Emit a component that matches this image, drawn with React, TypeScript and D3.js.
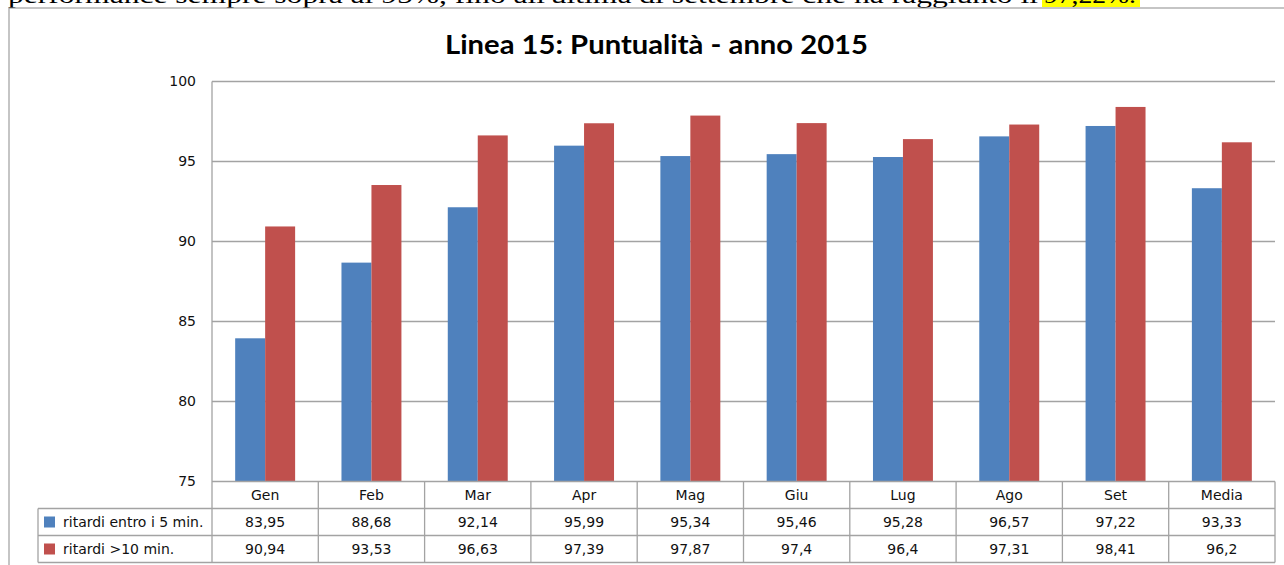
import * as d3 from 'd3';

const categories = ['Gen', 'Feb', 'Mar', 'Apr', 'Mag', 'Giu', 'Lug', 'Ago', 'Set', 'Media'];
const seriesNames = ['ritardi entro i 5 min.', 'ritardi >10 min.'];
const entro5 = [83.95, 88.68, 92.14, 95.99, 95.34, 95.46, 95.28, 96.57, 97.22, 93.33];
const oltre10 = [90.94, 93.53, 96.63, 97.39, 97.87, 97.4, 96.4, 97.31, 98.41, 96.2];
const tableLabels = [
  ['83,95', '88,68', '92,14', '95,99', '95,34', '95,46', '95,28', '96,57', '97,22', '93,33'],
  ['90,94', '93,53', '96,63', '97,39', '97,87', '97,4', '96,4', '97,31', '98,41', '96,2'],
];
const yTicks = [75, 80, 85, 90, 95, 100];
const colors = ['#4f81bd', '#c0504d'];

const W = 1284;
const H = 565;
const font = '"DejaVu Sans", Verdana, sans-serif';
const grid = '#a3a3a3';

export default function App() {
  const plot = { left: 212, right: 1275, top: 81.5, bottom: 481.5 };
  const rowH = 27;

  const x0 = d3.scaleBand<string>().domain(categories).range([plot.left, plot.right]).padding(0);
  const bw = x0.bandwidth();
  const x1 = d3
    .scaleBand<string>()
    .domain(seriesNames)
    .range([bw * 0.218, bw * 0.782])
    .padding(0);
  const y = d3.scaleLinear().domain([75, 100]).range([plot.bottom, plot.top]);

  const series = [entro5, oltre10];
  const tableTop = plot.bottom;
  const rows = [tableTop, tableTop + rowH, tableTop + rowH * 2, tableTop + rowH * 3];
  const legendLeft = 38;

  return (
    <svg width={W} height={H} style={{ position: 'absolute', left: 0, top: 0, background: '#fff' }}>
      {/* cut-off sentence from the page above the chart */}
      <rect x={1042} y={0} width={98} height={7} fill="#ffff00" />
      <text x={8} y={3} fontFamily='"Liberation Serif", serif' fontSize={24} textLength={1030} lengthAdjust="spacingAndGlyphs">
        performance sempre sopra al 95%, fino all'ultima di settembre che ha raggiunto il
      </text>
      <text x={1044} y={3} fontFamily='"Liberation Serif", serif' fontSize={24} textLength={92} lengthAdjust="spacingAndGlyphs">
        97,22%.
      </text>

      {/* chart frame */}
      <rect x={9} y={8} width={W + 10} height={H + 10} fill="#fff" stroke="#8c8c8c" strokeWidth={1} />

      <text
        x={(445 + 868) / 2}
        y={54}
        textAnchor="middle"
        fontFamily="Lato, sans-serif"
        fontWeight={700}
        fontSize={27}
        textLength={423}
        lengthAdjust="spacingAndGlyphs"
      >
        Linea 15: Puntualità - anno 2015
      </text>

      {/* gridlines */}
      {yTicks.slice(1).map((t) => (
        <line key={t} x1={plot.left} x2={plot.right} y1={y(t)} y2={y(t)} stroke={grid} strokeWidth={1.3} />
      ))}
      {yTicks.map((t) => (
        <text key={t} x={196} y={y(t)} dy="0.35em" textAnchor="end" fontFamily={font} fontSize={14} fill="#111">
          {t}
        </text>
      ))}

      {/* bars */}
      {categories.map((c, i) => (
        <g key={c} transform={`translate(${x0(c)},0)`}>
          {seriesNames.map((s, j) => (
            <rect
              key={s}
              x={x1(s)}
              y={y(series[j][i])}
              width={x1.bandwidth()}
              height={y(75) - y(series[j][i])}
              fill={colors[j]}
            />
          ))}
        </g>
      ))}

      {/* y axis line */}
      <line x1={plot.left} x2={plot.left} y1={plot.top} y2={rows[3]} stroke={grid} strokeWidth={1.3} />

      {/* data table */}
      <line x1={plot.left} x2={plot.right} y1={rows[0]} y2={rows[0]} stroke={grid} strokeWidth={1.3} />
      {[rows[1], rows[2], rows[3]].map((ry, k) => (
        <line key={k} x1={legendLeft} x2={plot.right} y1={ry} y2={ry} stroke={grid} strokeWidth={1.3} />
      ))}
      <line x1={legendLeft} x2={legendLeft} y1={rows[1]} y2={rows[3]} stroke={grid} strokeWidth={1.3} />
      {categories.map((c) => (
        <line
          key={c}
          x1={(x0(c) ?? 0) + bw}
          x2={(x0(c) ?? 0) + bw}
          y1={rows[0]}
          y2={rows[3]}
          stroke={grid}
          strokeWidth={1.3}
        />
      ))}
      {categories.map((c) => (
        <text
          key={c}
          x={(x0(c) ?? 0) + bw / 2}
          y={(rows[0] + rows[1]) / 2}
          dy="0.35em"
          textAnchor="middle"
          fontFamily={font}
          fontSize={14}
          fill="#111"
        >
          {c}
        </text>
      ))}
      {seriesNames.map((s, j) => {
        const cy = (rows[j + 1] + rows[j + 2]) / 2;
        return (
          <g key={s}>
            <rect x={44} y={cy - 5.5} width={11} height={11} fill={colors[j]} />
            <text x={63} y={cy} dy="0.35em" fontFamily={font} fontSize={14} fill="#111">
              {s}
            </text>
            {categories.map((c, i) => (
              <text
                key={c}
                x={(x0(c) ?? 0) + bw / 2}
                y={cy}
                dy="0.35em"
                textAnchor="middle"
                fontFamily={font}
                fontSize={14}
                fill="#111"
              >
                {tableLabels[j][i]}
              </text>
            ))}
          </g>
        );
      })}
    </svg>
  );
}
